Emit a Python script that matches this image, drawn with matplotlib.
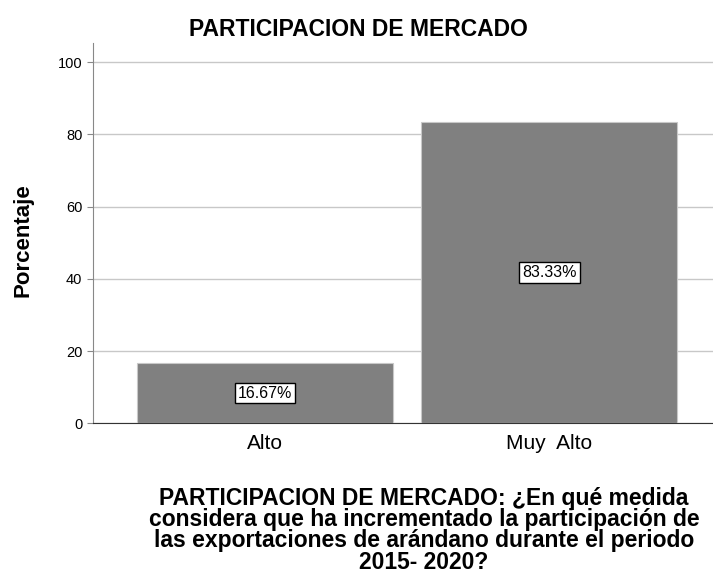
import matplotlib.pyplot as plt
import numpy as np

plt.rcParams['font.family'] = ['Liberation Sans', 'DejaVu Sans']

categorias = ['Alto', 'Muy  Alto']
porcentaje = [16.67, 83.33]
etiquetas = ['16.67%', '83.33%']

fig = plt.figure(figsize=(7.13, 5.75), dpi=100)
ax = fig.add_axes([0.130, 0.264, 0.870, 0.661])

x = np.arange(len(categorias))
ax.bar(x, porcentaje, width=0.9, color='#808080', edgecolor='#c8c8c8', linewidth=0.8, zorder=3)

for xi, v, t in zip(x, porcentaje, etiquetas):
    ax.text(xi, v / 2, t, ha='center', va='center', fontsize=11.5, zorder=4,
            bbox=dict(boxstyle='square,pad=0.18', fc='white', ec='black', lw=1))

ax.set_xlim(-0.605, 1.575)
ax.set_ylim(0, 105.3)
ax.set_yticks([0, 20, 40, 60, 80, 100])
ax.set_xticks(x)
ax.set_xticklabels(categorias, fontsize=15)
ax.tick_params(axis='y', labelsize=10.5, length=4, color='#888888')
ax.tick_params(axis='x', length=0, pad=8)

ax.grid(axis='y', color='#c8c8c8', linewidth=1, zorder=0)
for s in ['top', 'right']:
    ax.spines[s].set_visible(False)
ax.spines['left'].set_color('#888888')
ax.spines['bottom'].set_color('#333333')

ax.set_ylabel('Porcentaje', fontsize=16, fontweight='bold')
ax.yaxis.set_label_coords(-0.095, 0.482)
ax.set_title('PARTICIPACION DE MERCADO', fontsize=16.5, fontweight='bold', pad=5, x=0.429)
ax.set_xlabel('PARTICIPACION DE MERCADO: ¿En qué medida\n'
              'considera que ha incrementado la participación de\n'
              'las exportaciones de arándano durante el periodo\n'
              '2015- 2020?', fontsize=16.5, fontweight='bold', linespacing=0.9)
ax.xaxis.set_label_coords(0.534, -0.168)

fig.savefig('out.png', dpi=100)
